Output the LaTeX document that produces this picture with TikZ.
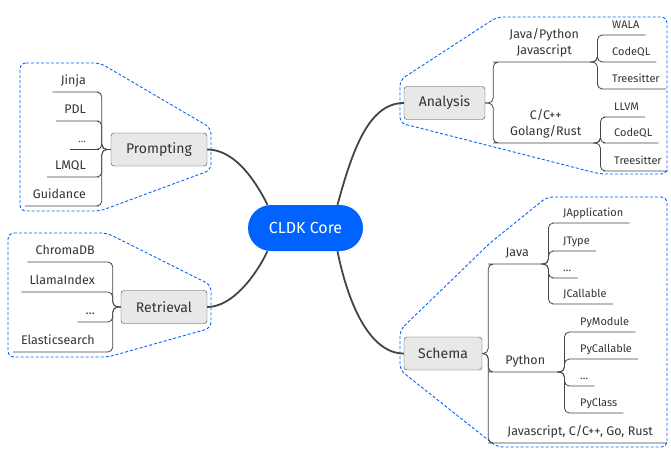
\documentclass[tikz,border=0pt]{standalone}
\usepackage{fontspec}
\setmainfont{Fira Sans}
\usetikzlibrary{calc}
\definecolor{cldkblue}{RGB}{0,98,255}
\definecolor{boxgray}{RGB}{232,232,232}
\definecolor{linegray}{RGB}{68,68,68}
\definecolor{txtgray}{RGB}{51,51,51}

\begin{document}
\begin{tikzpicture}[x=1pt,y=-1pt,
  core/.style={fill=cldkblue, text=white, rounded corners=23pt, minimum width=115pt, minimum height=46pt, font=\fontsize{16}{18}\selectfont},
  topic/.style={draw=linegray, fill=boxgray, rounded corners=3pt, text=txtgray, minimum height=33pt, inner sep=0pt, font=\fontsize{14}{16}\selectfont},
  sub/.style={text=txtgray, inner sep=0pt, inner ysep=7pt, text depth=0pt, align=center, font=\fontsize{12.5}{16}\selectfont},
  lsub/.style={sub, anchor=south east, inner xsep=8pt},
  rsub/.style={sub, anchor=south west},
  leaf/.style={text=txtgray, anchor=south west, inner xsep=6pt, inner ysep=6.5pt, text depth=0pt, font=\fontsize{11}{13}\selectfont},
  trunk/.style={draw=linegray, line width=1.8pt},
  twig/.style={draw=linegray, line width=0.8pt, rounded corners=5pt},
  group/.style={draw=cldkblue, dash pattern=on 3pt off 2pt, line width=0.9pt, rounded corners=6pt}]
\useasboundingbox (0,0) rectangle (671,451);

% dashed groups
\draw[group] (20,63) -- (100,63) -- (211,128) -- (211,170) -- (100,211) -- (20,211) -- cycle;
\draw[group] (8,233) -- (107,233) -- (211,285) -- (211,328) -- (108,357) -- (8,357) -- cycle;
\draw[group] (400,80) -- (497,17) -- (667,17) -- (667,174) -- (600,174) -- (400,123) -- cycle;
\draw[group] (400,330) -- (490,243) -- (547,197) -- (667,197) -- (667,447) -- (497,447) -- (400,370) -- cycle;

% main nodes
\node[core] (core) at (305.5,228) {CLDK Core};
\node[topic, minimum width=96pt] (prompt) at (159,149.5) {Prompting};
\node[topic, minimum width=86pt] (retr) at (164,307) {Retrieval};
\node[topic, minimum width=81pt] (anal) at (444.5,103) {Analysis};
\node[topic, minimum width=78pt] (schema) at (443,353.5) {Schema};

% prompting
\node[lsub] (jinja) at (94,92) {Jinja};
\node[lsub] (pdl) at (94,121) {PDL};
\node[lsub, font=\fontsize{10}{12}\selectfont] (pdots) at (94,149.5) {…};
\node[lsub] (lmql) at (94,177) {LMQL};
\node[lsub] (guid) at (94,206) {Guidance};
\foreach \n in {jinja,pdl,pdots,lmql,guid}
  \draw[twig] (prompt.west) -- ++(-9,0) |- (\n.south east) -- (\n.south west);

% retrieval
\node[lsub] (chroma) at (103,262) {ChromaDB};
\node[lsub] (llama) at (103,292) {LlamaIndex};
\node[lsub] (rdots) at (103,322) {…};
\node[lsub] (elastic) at (103,352) {Elasticsearch};
\foreach \n in {chroma,llama,rdots,elastic}
  \draw[twig] (retr.west) -- ++(-8,0) |- (\n.south east) -- (\n.south west);

% analysis
\node[rsub, minimum width=92pt] (jvpy) at (498,62) {Java/Python\\Javascript};
\node[rsub, minimum width=95pt] (cgo) at (498,143) {C/C++\\Golang/Rust};
\foreach \n in {jvpy,cgo}
  \draw[twig] (anal.east) -- ++(8,0) |- (\n.south west) -- (\n.south east);
\node[leaf] (wala) at (606,35) {WALA};
\node[leaf] (cql1) at (606,62) {CodeQL};
\node[leaf] (ts1) at (606,89) {Treesitter};
\foreach \n in {wala,cql1,ts1}
  \draw[twig] (jvpy.south east) -- ++(7,0) |- (\n.south west) -- (\n.south east);
\node[leaf] (llvm) at (608,117) {LLVM};
\node[leaf] (cql2) at (608,143) {CodeQL};
\node[leaf] (ts2) at (608,171) {Treesitter};
\foreach \n in {llvm,cql2,ts2}
  \draw[twig] (cgo.south east) -- ++(7,0) |- (\n.south west) -- (\n.south east);

% schema
\node[rsub, minimum width=48pt] (java) at (493,264) {Java};
\node[rsub, minimum width=64pt] (python) at (493,372) {Python};
\node[rsub, minimum width=174pt] (others) at (493,443) {Javascript, C/C++, Go, Rust};
\foreach \n in {java,python,others}
  \draw[twig] (schema.east) -- ++(6,0) |- (\n.south west) -- (\n.south east);
\node[leaf] (japp) at (557,223) {JApplication};
\node[leaf] (jtype) at (557,251) {JType};
\node[leaf] (jdots) at (557,278) {…};
\node[leaf] (jcall) at (557,304) {JCallable};
\foreach \n in {japp,jtype,jdots,jcall}
  \draw[twig] (java.south east) -- ++(7,0) |- (\n.south west) -- (\n.south east);
\node[leaf] (pymod) at (574,332) {PyModule};
\node[leaf] (pycall) at (574,359) {PyCallable};
\node[leaf] (pydots) at (574,386) {…};
\node[leaf] (pycls) at (574,413) {PyClass};
\foreach \n in {pymod,pycall,pydots,pycls}
  \draw[twig] (python.south east) -- ++(7,0) |- (\n.south west) -- (\n.south east);

% trunks
\draw[trunk] (prompt.east) .. controls +(25,0) and +(-15,-30) .. ($(core.north)+(-38,0)$);
\draw[trunk] (retr.east) .. controls +(25,0) and +(-12,25) .. ($(core.south)+(-38,0)$);
\draw[trunk] ($(core.north)+(32,0)$) .. controls +(15,-55) and +(-35,0) .. (anal.west);
\draw[trunk] ($(core.south)+(32,0)$) .. controls +(10,50) and +(-35,0) .. (schema.west);
\end{tikzpicture}
\end{document}
